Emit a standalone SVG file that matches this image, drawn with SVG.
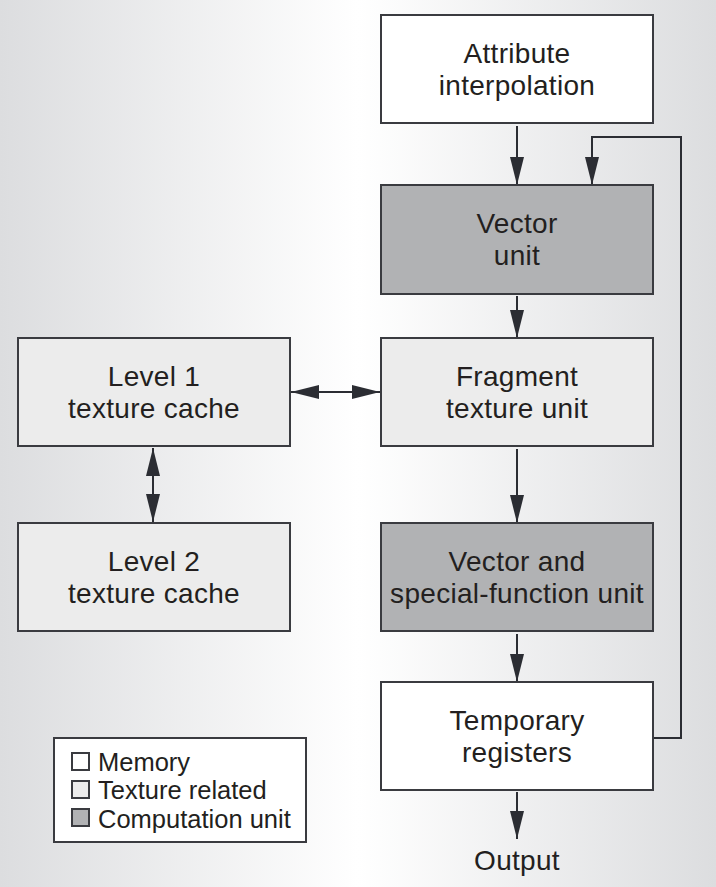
<svg xmlns="http://www.w3.org/2000/svg" width="716" height="887" viewBox="0 0 716 887">
<defs>
<linearGradient id="bg" x1="0" y1="0" x2="1" y2="0">
<stop offset="0" stop-color="#dcdddf"/>
<stop offset="0.5" stop-color="#ffffff"/>
<stop offset="1" stop-color="#dcdddf"/>
</linearGradient>
<marker id="ah" viewBox="0 0 28 14" refX="28" refY="7" markerWidth="28" markerHeight="14" markerUnits="userSpaceOnUse" orient="auto-start-reverse">
<path d="M0,0 L28,7 L0,14 Z" fill="#2b2d33"/>
</marker>
<style>
.box{stroke:#3a3b40;stroke-width:2}
.mem{fill:#ffffff}
.tex{fill:#ececec}
.cmp{fill:#b1b2b4}
.t{font-family:"Liberation Sans",Arial,sans-serif;font-size:28px;letter-spacing:0.3px;fill:#231f20;text-anchor:middle}
.lg{font-family:"Liberation Sans",Arial,sans-serif;font-size:25.5px;fill:#231f20}
.c{fill:none;stroke:#2b2d33;stroke-width:2}
</style>
</defs>
<rect x="0" y="0" width="716" height="887" fill="url(#bg)"/>
<g id="connectors">
<line class="c" x1="517" y1="126" x2="517" y2="185" marker-end="url(#ah)"/>
<polyline class="c" points="653,738 681,738 681,137 592,137 592,185" marker-end="url(#ah)"/>
<line class="c" x1="517" y1="296" x2="517" y2="338" marker-end="url(#ah)"/>
<line class="c" x1="517" y1="449" x2="517" y2="523" marker-end="url(#ah)"/>
<line class="c" x1="517" y1="634" x2="517" y2="682" marker-end="url(#ah)"/>
<line class="c" x1="517" y1="792" x2="517" y2="839" marker-end="url(#ah)"/>
<line class="c" x1="291" y1="392" x2="380" y2="392" marker-start="url(#ah)" marker-end="url(#ah)"/>
<line class="c" x1="153" y1="448" x2="153" y2="522" marker-start="url(#ah)" marker-end="url(#ah)"/>
</g>
<g id="attr">
<rect class="box mem" x="381" y="15" width="272" height="108"/>
<text class="t" x="517" y="63">Attribute</text>
<text class="t" x="517" y="95">interpolation</text>
</g>
<g id="vector">
<rect class="box cmp" x="381" y="185" width="272" height="109"/>
<text class="t" x="517" y="233">Vector</text>
<text class="t" x="517" y="265">unit</text>
</g>
<g id="frag">
<rect class="box tex" x="381" y="338" width="272" height="108"/>
<text class="t" x="517" y="386">Fragment</text>
<text class="t" x="517" y="418">texture unit</text>
</g>
<g id="l1">
<rect class="box tex" x="18" y="338" width="272" height="108"/>
<text class="t" x="154" y="386">Level 1</text>
<text class="t" x="154" y="418">texture cache</text>
</g>
<g id="l2">
<rect class="box tex" x="18" y="523" width="272" height="108"/>
<text class="t" x="154" y="571">Level 2</text>
<text class="t" x="154" y="603">texture cache</text>
</g>
<g id="vsf">
<rect class="box cmp" x="381" y="523" width="272" height="108"/>
<text class="t" x="517" y="571">Vector and</text>
<text class="t" x="517" y="603">special-function unit</text>
</g>
<g id="temp">
<rect class="box mem" x="381" y="682" width="272" height="108"/>
<text class="t" x="517" y="730">Temporary</text>
<text class="t" x="517" y="762">registers</text>
</g>
<g id="output">
<text class="t" x="517" y="870">Output</text>
</g>
<g id="legend">
<rect x="54" y="738" width="252" height="104" fill="#ffffff" stroke="#3a3b40" stroke-width="2"/>
<rect class="box mem" x="72" y="753" width="17" height="17"/>
<text class="lg" x="98" y="771">Memory</text>
<rect class="box tex" x="72" y="781" width="17" height="17"/>
<text class="lg" x="98" y="799">Texture related</text>
<rect class="box cmp" x="72" y="809" width="17" height="17"/>
<text class="lg" x="98" y="828">Computation unit</text>
</g>
</svg>
